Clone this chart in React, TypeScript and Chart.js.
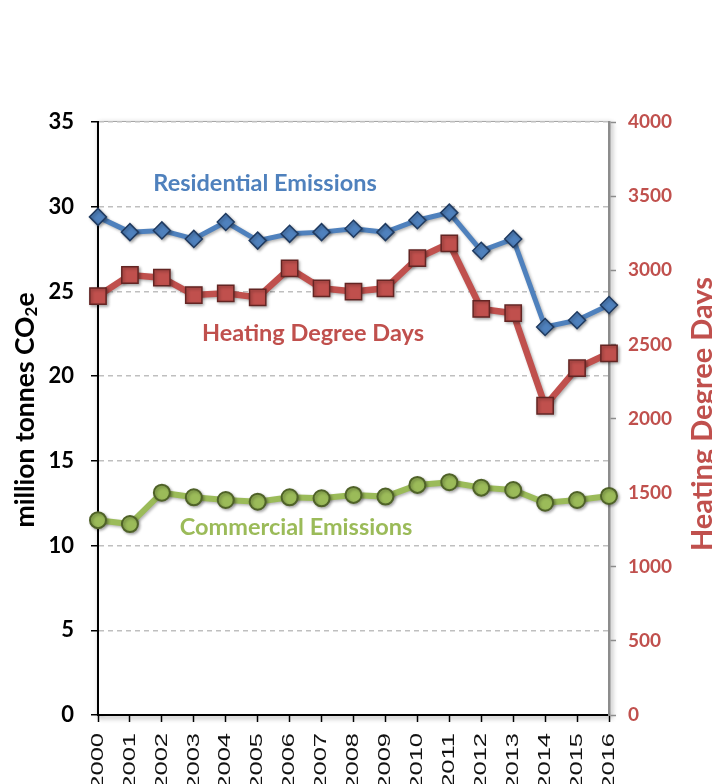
import React, { useEffect, useRef } from 'react';
import { Chart, registerables } from 'chart.js';

Chart.register(...registerables);

// ---- data ----
const years = ['2000', '2001', '2002', '2003', '2004', '2005', '2006', '2007', '2008', '2009', '2010', '2011', '2012', '2013', '2014', '2015', '2016'];
const residentialEmissions = [29.4, 28.5, 28.6, 28.1, 29.1, 28.0, 28.4, 28.5, 28.7, 28.5, 29.2, 29.65, 27.4, 28.1, 22.9, 23.3, 24.2];
const commercialEmissions = [11.5, 11.27, 13.12, 12.85, 12.69, 12.59, 12.85, 12.79, 12.99, 12.89, 13.58, 13.74, 13.42, 13.28, 12.53, 12.69, 12.93];
const heatingDegreeDays = [2826, 2968, 2950, 2833, 2844, 2817, 3013, 2878, 2856, 2878, 3081, 3182, 2739, 2710, 2086, 2339, 2440];
const leftAxisRange = [0, 35];
const leftAxisStep = 5;
const rightAxisRange = [0, 4000];
const rightAxisStep = 500;

const BLUE = '#4F81BD';
const BLUE_DARK = '#1F3A60';
const RED = '#C0504D';
const RED_DARK = '#632523';
const GREEN = '#9BBB59';
const GREEN_DARK = '#4F6228';

// series labels placed in data units
const seriesLabels = [
  { text: 'Residential Emissions', x: 5.23, y: 31.4, color: BLUE },
  { text: 'Heating Degree Days', x: 6.73, y: 22.5, color: RED },
  { text: 'Commercial Emissions', x: 6.2, y: 11.1, color: GREEN },
];

const FONT = 'Lato, "Open Sans", sans-serif';

const plotFrame = {
  id: 'plotFrame',
  beforeDraw(chart: any) {
    const { ctx, chartArea: a } = chart;
    ctx.save();
    ctx.shadowColor = 'rgba(0,0,0,0.45)';
    ctx.shadowBlur = 5;
    ctx.shadowOffsetX = 2;
    ctx.shadowOffsetY = 2;
    ctx.strokeStyle = '#A6A6A6';
    ctx.lineWidth = 2;
    ctx.strokeRect(a.left, a.top, a.right - a.left, a.bottom - a.top);
    ctx.restore();
    ctx.save();
    ctx.fillStyle = '#fff';
    ctx.fillRect(a.left, a.top, a.right - a.left, a.bottom - a.top);
    ctx.restore();
  },
  beforeDatasetsDraw(chart: any) {
    const { ctx } = chart;
    ctx.save();
    ctx.shadowColor = 'rgba(0,0,0,0.3)';
    ctx.shadowBlur = 3;
    ctx.shadowOffsetX = 1.5;
    ctx.shadowOffsetY = 1.5;
  },
  afterDatasetsDraw(chart: any) {
    chart.ctx.restore();
  },
};

const textPlugin = {
  id: 'textPlugin',
  afterDraw(chart: any) {
    const { ctx, scales } = chart;
    const x = scales.x;
    const y = scales.y;

    // x tick labels, rotated and stretched along text direction
    ctx.save();
    ctx.fillStyle = '#111';
    ctx.font = '17px "Liberation Sans", Arial, sans-serif';
    ctx.textAlign = 'right';
    ctx.textBaseline = 'middle';
    x.ticks.forEach((t: any, i: number) => {
      const px = x.getPixelForTick(i);
      const label = x.getLabelForValue(t.value);
      ctx.save();
      ctx.translate(px, x.top + 18);
      ctx.rotate(-Math.PI / 2);
      ctx.scale(1.5, 1);
      ctx.fillText(label, 0, 0);
      ctx.restore();
    });
    ctx.restore();

    // series labels
    ctx.save();
    ctx.font = 'bold 23.5px ' + FONT;
    ctx.textAlign = 'center';
    ctx.textBaseline = 'middle';
    seriesLabels.forEach((l) => {
      ctx.fillStyle = l.color;
      ctx.fillText(l.text, x.getPixelForValue(l.x), y.getPixelForValue(l.y));
    });
    ctx.restore();

    // left axis title with subscript
    ctx.save();
    const ca = chart.chartArea;
    ctx.translate(25, 410);
    ctx.rotate(-Math.PI / 2);
    ctx.fillStyle = '#000';
    ctx.textBaseline = 'middle';
    ctx.textAlign = 'left';
    const big = 'bold 26.5px ' + FONT;
    const small = 'bold 17px ' + FONT;
    const p1 = 'million tonnes CO';
    const p2 = '2';
    const p3 = 'e';
    ctx.font = big;
    const w1 = ctx.measureText(p1).width;
    const w3 = ctx.measureText(p3).width;
    ctx.font = small;
    const w2 = ctx.measureText(p2).width;
    let sx = -(w1 + w2 + w3) / 2;
    ctx.font = big;
    ctx.fillText(p1, sx, 0);
    sx += w1;
    ctx.font = small;
    ctx.fillText(p2, sx, 7);
    sx += w2;
    ctx.font = big;
    ctx.fillText(p3, sx, 0);
    ctx.restore();

    // right axis title
    ctx.save();
    ctx.translate(703, 414);
    ctx.rotate(-Math.PI / 2);
    ctx.fillStyle = RED;
    ctx.font = 'bold 29px ' + FONT;
    ctx.textAlign = 'center';
    ctx.textBaseline = 'middle';
    ctx.fillText('Heating Degree Days', 0, 0);
    ctx.restore();
    void ca;
  },
};

export default function App() {
  const ref = useRef<HTMLCanvasElement>(null);

  useEffect(() => {
    document.body.style.margin = '0';
    const canvas = ref.current;
    if (!canvas) return;
    const chart = new Chart(canvas, {
      type: 'line',
      data: {
        labels: years,
        datasets: [
          {
            label: 'Residential Emissions',
            data: residentialEmissions,
            yAxisID: 'y',
            borderColor: BLUE,
            borderWidth: 5,
            backgroundColor: BLUE,
            pointStyle: 'rectRot',
            pointRadius: 8.5,
            pointBackgroundColor: BLUE,
            pointBorderColor: BLUE_DARK,
            pointBorderWidth: 1.5,
            tension: 0,
            clip: false,
          },
          {
            label: 'Heating Degree Days',
            data: heatingDegreeDays,
            yAxisID: 'y1',
            borderColor: RED,
            borderWidth: 6.5,
            backgroundColor: RED,
            pointStyle: 'rect',
            pointRadius: 11.5,
            pointBackgroundColor: RED,
            pointBorderColor: RED_DARK,
            pointBorderWidth: 1.5,
            tension: 0,
            clip: false,
          },
          {
            label: 'Commercial Emissions',
            data: commercialEmissions,
            yAxisID: 'y',
            borderColor: GREEN,
            borderWidth: 6,
            backgroundColor: GREEN,
            pointStyle: 'circle',
            pointRadius: 8,
            pointBackgroundColor: GREEN,
            pointBorderColor: GREEN_DARK,
            pointBorderWidth: 2,
            tension: 0,
            clip: false,
          },
        ],
      },
      options: {
        responsive: false,
        animation: false,
        devicePixelRatio: 1,
        layout: { padding: { top: 122, left: 0, right: 0, bottom: 0 } },
        plugins: {
          legend: { display: false },
          tooltip: { enabled: false },
          title: { display: false },
        },
        scales: {
          x: {
            type: 'category',
            offset: false,
            grid: {
              display: true,
              drawOnChartArea: false,
              drawTicks: true,
              tickLength: 7,
              tickColor: '#000',
              tickWidth: 1.5,
            },
            border: { display: true, color: '#000', width: 2 },
            ticks: { display: false, autoSkip: false },
            afterFit: (s: any) => {
              s.height = 69;
            },
          },
          y: {
            position: 'left',
            min: leftAxisRange[0],
            max: leftAxisRange[1],
            ticks: {
              stepSize: leftAxisStep,
              color: '#000',
              font: { family: FONT, weight: 'bold', size: 22 },
              padding: 17,
              callback: (v: any) => String(v),
            },
            grid: {
              color: (c: any) => (c.tick && c.tick.value === 0 ? 'rgba(0,0,0,0)' : '#BFBFBF'),
              lineWidth: 1.5,
              tickLength: 7,
              tickColor: '#000',
              tickWidth: 1.5,
            },
            border: { display: true, color: '#000', width: 2, dash: [5, 4] },
            afterFit: (s: any) => {
              s.width = 98;
            },
          },
          y1: {
            position: 'right',
            min: rightAxisRange[0],
            max: rightAxisRange[1],
            ticks: {
              stepSize: rightAxisStep,
              color: RED,
              font: { family: FONT, weight: 'bold', size: 19 },
              padding: 12,
              callback: (v: any) => String(v),
            },
            grid: {
              drawOnChartArea: false,
              tickLength: 7,
              tickColor: '#8C8C8C',
              tickWidth: 1.5,
            },
            border: { display: true, color: '#8C8C8C', width: 2.5 },
            afterFit: (s: any) => {
              s.width = 103;
            },
          },
        },
      },
      plugins: [plotFrame, textPlugin],
    });
    return () => chart.destroy();
  }, []);

  return (
    <div style={{ width: 712, height: 784 }}>
      <canvas ref={ref} width={712} height={784} style={{ display: 'block' }} />
    </div>
  );
}
